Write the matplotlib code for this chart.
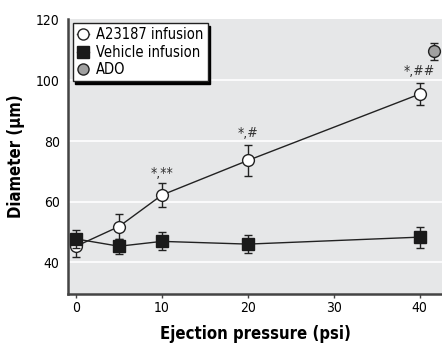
import numpy as np
import matplotlib.pyplot as plt

# data
pressure = [0, 5, 10, 20, 40]
a23187 = [45.3, 51.8, 62.2, 73.6, 95.5]
a23187_err = [3.5, 4.0, 4.0, 5.0, 3.7]
vehicle = [47.7, 45.3, 46.9, 46.0, 48.3]
vehicle_err = [3.0, 2.5, 3.0, 3.0, 3.5]
ado_x = [41.7]
ado = [109.6]
ado_err = [2.8]
sig_x = [10, 20, 40]
sig_y = [69.5, 82.5, 103]
sig_text = ['*,**', '*,#', '*,##']

plt.rcParams['font.family'] = ['DejaVu Sans']
plt.rcParams['font.stretch'] = 'condensed'

fig = plt.figure(figsize=(4.42, 3.44), dpi=100)
ax = fig.add_axes([0.154, 0.145, 0.846, 0.80])
ax.set_facecolor('#e6e7e8')

for y in [40, 60, 80, 100]:
    ax.axhline(y, color='white', lw=1.2, zorder=0)

ax.errorbar(pressure, a23187, yerr=a23187_err, color='#222222', lw=1,
            elinewidth=1, capsize=3, marker='o', ms=8.5, mfc='white',
            mec='#222222', mew=1, label='A23187 infusion', zorder=3)
ax.errorbar(pressure, vehicle, yerr=vehicle_err, color='#222222', lw=1,
            elinewidth=1, capsize=3, marker='s', ms=8, mfc='#1a1a1a',
            mec='#1a1a1a', label='Vehicle infusion', zorder=4)
ax.errorbar(ado_x, ado, yerr=ado_err, color='#222222', lw=0,
            elinewidth=1, capsize=3, marker='o', ms=8.5, mfc='#a0a0a0',
            mec='#222222', mew=1, label='ADO', zorder=3)

for x, y, t in zip(sig_x, sig_y, sig_text):
    ax.text(x, y, t, ha='center', va='center', fontsize=10, color='#333333')

ax.set_xlim(-0.93, 42.6)
ax.set_ylim(29.5, 120.3)
ax.set_xticks([0, 10, 20, 30, 40])
ax.set_yticks([40, 60, 80, 100, 120])
ax.tick_params(axis='y', length=0, labelsize=10, pad=6)
ax.tick_params(axis='x', length=3, width=1, labelsize=10, color='#444444', pad=2)
for s in ['top', 'right']:
    ax.spines[s].set_visible(False)
for s in ['left', 'bottom']:
    ax.spines[s].set_color('#444444')
    ax.spines[s].set_linewidth(1.8)

ax.set_xlabel('Ejection pressure (psi)', fontsize=12, fontweight='bold', labelpad=7)
ax.set_ylabel('Diameter (\u03bcm)', fontsize=12, fontweight='bold', labelpad=8)

handles, labels = ax.get_legend_handles_labels()
handles = [h[0] for h in handles]
leg = ax.legend(handles, labels, loc='upper left', bbox_to_anchor=(0.012, 0.985),
                borderaxespad=0, fontsize=10.5, handlelength=0.8, handletextpad=0.5,
                borderpad=0.3, labelspacing=0.15, fancybox=False, framealpha=1,
                edgecolor='#222222', shadow={'color': 'black', 'alpha': 1})
leg.get_frame().set_linewidth(1)
for h in leg.legend_handles:
    h.set_markersize(8)

fig.savefig('out.png', dpi=100)
